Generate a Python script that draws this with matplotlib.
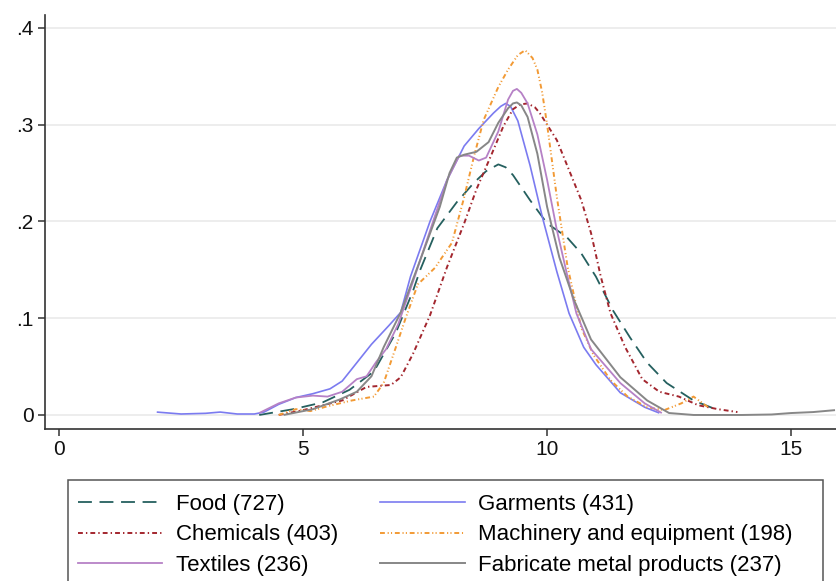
import matplotlib
matplotlib.use("Agg")
import matplotlib.pyplot as plt
from matplotlib.lines import Line2D
from matplotlib.patches import Rectangle

plt.rcParams['font.family'] = ['Liberation Sans', 'DejaVu Sans']
plt.rcParams['lines.scale_dashes'] = False

# ---- data ----
food_x = [4.1, 4.8, 5.4, 5.95, 6.45, 6.9, 7.25, 7.4, 7.75, 8.15, 8.5, 8.75, 9.0, 9.15, 9.3,
          9.65, 10.0, 10.4, 10.7, 11.0, 11.35, 11.7, 12.05, 12.45, 13.0, 13.4]
food_y = [0.0, 0.006, 0.013, 0.026, 0.045, 0.085, 0.128, 0.15, 0.193, 0.22, 0.24, 0.252,
          0.259, 0.256, 0.248, 0.222, 0.198, 0.184, 0.167, 0.143, 0.108, 0.08, 0.054, 0.033,
          0.015, 0.007]

garm_x = [2.0, 2.5, 3.0, 3.3, 3.65, 4.0, 4.2, 4.5, 4.85, 5.2, 5.55, 5.8, 6.1, 6.4, 6.75,
          7.0, 7.2, 7.6, 7.95, 8.3, 8.6, 8.9, 9.05, 9.15, 9.25, 9.4, 9.65, 9.9, 10.2, 10.45,
          10.75, 11.0, 11.5, 12.0, 12.3]
garm_y = [0.003, 0.001, 0.0017, 0.003, 0.001, 0.001, 0.003, 0.011, 0.018, 0.022, 0.027,
          0.035, 0.054, 0.073, 0.092, 0.106, 0.143, 0.2, 0.243, 0.278, 0.296, 0.312, 0.319,
          0.322, 0.319, 0.304, 0.258, 0.205, 0.148, 0.105, 0.07, 0.052, 0.023, 0.008, 0.002]

chem_x = [4.5, 5.0, 5.4, 5.8, 6.3, 6.8, 7.0, 7.25, 7.6, 7.95, 8.3, 8.55, 8.85, 9.1, 9.3,
          9.45, 9.6, 9.75, 9.85, 10.2, 10.45, 10.7, 10.9, 11.1, 11.3, 11.6, 11.95, 12.3,
          12.7, 13.1, 13.5, 13.9]
chem_y = [0.0, 0.005, 0.01, 0.015, 0.029, 0.031, 0.039, 0.063, 0.103, 0.153, 0.198, 0.233,
          0.268, 0.298, 0.316, 0.321, 0.322, 0.318, 0.312, 0.284, 0.253, 0.222, 0.188, 0.143,
          0.105, 0.07, 0.037, 0.024, 0.019, 0.01, 0.006, 0.003]

mach_x = [4.5, 4.85, 5.15, 5.5, 6.0, 6.45, 6.65, 6.9, 7.1, 7.35, 7.7, 8.05, 8.3, 8.5, 8.7,
          9.0, 9.2, 9.4, 9.55, 9.7, 9.8, 9.9, 10.0, 10.2, 10.42, 10.7, 10.95, 11.3, 11.65,
          12.05, 12.4, 12.75, 13.0, 13.3]
mach_y = [0.0, 0.006, 0.004, 0.009, 0.015, 0.019, 0.033, 0.07, 0.1, 0.135, 0.152, 0.178,
          0.225, 0.267, 0.305, 0.339, 0.357, 0.372, 0.377, 0.369, 0.357, 0.333, 0.30, 0.225,
          0.153, 0.09, 0.062, 0.036, 0.019, 0.008, 0.005, 0.012, 0.019, 0.008]

text_x = [4.1, 4.5, 4.85, 5.2, 5.5, 5.8, 6.1, 6.3, 6.5, 6.7, 6.95, 7.3, 7.65, 7.95, 8.2,
          8.4, 8.6, 8.75, 9.0, 9.2, 9.3, 9.38, 9.47, 9.6, 9.8, 10.0, 10.2, 10.4, 10.6, 10.9,
          11.5, 12.0, 12.35]
text_y = [0.002, 0.012, 0.018, 0.02, 0.019, 0.024, 0.037, 0.04, 0.055, 0.068, 0.094, 0.145,
          0.198, 0.243, 0.268, 0.268, 0.263, 0.266, 0.293, 0.326, 0.335, 0.337, 0.333, 0.322,
          0.29, 0.243, 0.191, 0.147, 0.105, 0.068, 0.033, 0.012, 0.002]

metal_x = [4.6, 5.2, 5.75, 6.1, 6.4, 6.65, 7.0, 7.25, 7.45, 7.8, 8.0, 8.15, 8.3, 8.55, 8.8,
           9.0, 9.2, 9.3, 9.38, 9.47, 9.6, 9.8, 10.0, 10.25, 10.55, 10.9, 11.5, 12.05, 12.5,
           13.0, 14.0, 14.6, 15.0, 15.45, 15.9]
metal_y = [0.0, 0.006, 0.016, 0.024, 0.04, 0.07, 0.106, 0.14, 0.167, 0.215, 0.25, 0.266,
           0.269, 0.272, 0.282, 0.302, 0.317, 0.322, 0.323, 0.32, 0.308, 0.27, 0.215, 0.163,
           0.119, 0.078, 0.039, 0.015, 0.002, 0.0, 0.0, 0.0005, 0.002, 0.003, 0.005]

labels = ["Food (727)", "Garments (431)", "Chemicals (403)",
          "Machinery and equipment (198)", "Textiles (236)", "Fabricate metal products (237)"]

x_ticks = [0, 5, 10, 15]
y_ticks = [0, 0.1, 0.2, 0.3, 0.4]
y_ticklabels = ["0", ".1", ".2", ".3", ".4"]

# ---- figure ----
W, H = 836, 581
fig = plt.figure(figsize=(W / 100, H / 100), dpi=100)
ax = fig.add_axes([44.5 / W, 1 - 429 / H, (836 - 44.5) / W, (429 - 15) / H])

styles = [
    dict(color="#25605f", ls=(0, (10, 5.5)), lw=1.3),
    dict(color="#7b7bf0", ls="-", lw=1.2),
    dict(color="#a3262e", ls=(0, (3.5, 2.2, 1.0, 2.2)), lw=1.4),
    dict(color="#f29a35", ls=(0, (3.5, 2.0, 0.8, 1.6, 0.8, 2.0)), lw=1.4),
    dict(color="#b681c6", ls="-", lw=1.3),
    dict(color="#878787", ls="-", lw=1.4),
]

series = [(food_x, food_y), (garm_x, garm_y), (chem_x, chem_y),
          (mach_x, mach_y), (text_x, text_y), (metal_x, metal_y)]
handles = []
for (xs, ys), st in zip(series, styles):
    ax.plot(xs, ys, color=st["color"], linestyle=st["ls"], linewidth=st["lw"],
            solid_capstyle="butt", dash_capstyle="butt", solid_joinstyle="round")
    handles.append(Line2D([], [], color=st["color"], linestyle=st["ls"], linewidth=st["lw"]))

ax.set_xlim(-0.30, 15.92)
ax.set_ylim(-0.0145, 0.4134)
ax.set_xticks(x_ticks)
ax.set_xticklabels([str(t) for t in x_ticks])
ax.set_yticks(y_ticks)
ax.set_yticklabels(y_ticklabels)
ax.yaxis.grid(True, color="#ececec", linewidth=1.3)
ax.set_axisbelow(True)
for s in ["top", "right"]:
    ax.spines[s].set_visible(False)
for s in ["left", "bottom"]:
    ax.spines[s].set_color("#333333")
    ax.spines[s].set_linewidth(1.2)
ax.tick_params(axis="both", direction="out", length=5, width=1.1, color="#333333",
               labelsize=15, labelcolor="#111111")
ax.tick_params(axis="x", pad=3)
ax.tick_params(axis="y", pad=3)

# legend box
fig.patches.append(Rectangle((68 / W, -0.05), (823 - 68) / W, 1 - 480 / H + 0.05,
                             transform=fig.transFigure, fill=False,
                             edgecolor="#555555", linewidth=1.1))
# row-major order (matplotlib fills columns first)
order = [0, 2, 4, 1, 3, 5]
fig.legend([handles[i] for i in order], [labels[i] for i in order], ncol=2,
           loc="upper left", bbox_to_anchor=(68 / W, 1 - 484 / H), frameon=False,
           fontsize=16, handlelength=3.8, handletextpad=0.6, columnspacing=1.9,
           labelspacing=0.42, borderpad=0.45, borderaxespad=0)

fig.savefig("out.png", dpi=100)
